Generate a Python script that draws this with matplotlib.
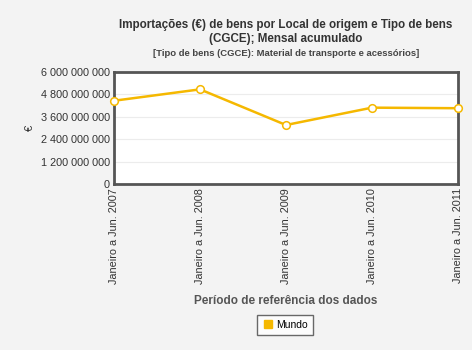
import matplotlib
matplotlib.use("Agg")
import matplotlib.pyplot as plt

# dados
periodos = ["Janeiro a Jun. 2007", "Janeiro a Jun. 2008", "Janeiro a Jun. 2009",
            "Janeiro a Jun. 2010", "Janeiro a Jun. 2011"]
mundo = [4.46e9, 5.07e9, 3.16e9, 4.09e9, 4.06e9]
y_ticks = [0, 1.2e9, 2.4e9, 3.6e9, 4.8e9, 6.0e9]
y_labels = ["0", "1 200 000 000", "2 400 000 000", "3 600 000 000",
            "4 800 000 000", "6 000 000 000"]

plt.rcParams['font.family'] = ['Liberation Sans', 'DejaVu Sans']

fig = plt.figure(figsize=(4.72, 3.5), dpi=100, facecolor="#f3f3f3")
ax = fig.add_axes([114 / 472, 1 - 184 / 350, 344 / 472, 112 / 350])
ax.set_facecolor("white")

x = list(range(len(periodos)))
ax.plot(x, mundo, color="#f5b800", lw=1.8, marker="o", markersize=5.5,
        markerfacecolor="white", markeredgecolor="#f5b800", markeredgewidth=1.1,
        zorder=3, clip_on=False, label="Mundo")

ax.set_xlim(0, 4)
ax.set_ylim(0, 6e9)
ax.set_yticks(y_ticks)
ax.set_yticklabels(y_labels, fontsize=7.8, color="#333333")
ax.set_xticks(x)
ax.set_xticklabels(periodos, rotation=90, fontsize=7.8, color="#333333")
ax.tick_params(length=0, pad=3)
ax.grid(axis="y", color="#ececec", lw=0.8)
ax.set_axisbelow(True)
for s in ax.spines.values():
    s.set_color("#555555")
    s.set_linewidth(2)

ax.set_ylabel("€", fontsize=8, color="#333333", labelpad=4)
ax.set_xlabel("Período de referência dos dados", fontsize=8.5, fontweight="bold",
              color="#555555", labelpad=8)

fig.text(286 / 472, 1 - 32 / 350,
         "Importações (€) de bens por Local de origem e Tipo de bens\n(CGCE); Mensal acumulado",
         ha="center", va="center", fontsize=8.4, fontweight="bold", color="#333333",
         linespacing=1.15)
fig.text(286 / 472, 1 - 53 / 350,
         "[Tipo de bens (CGCE): Material de transporte e acessórios]",
         ha="center", va="center", fontsize=6.8, fontweight="bold", color="#444444")

handle = plt.Line2D([], [], color="#f5b800", marker="s", linestyle="none", markersize=6)
leg = fig.legend([handle], ["Mundo"], loc="center", bbox_to_anchor=(285 / 472, 1 - 325 / 350),
                 fontsize=7.5, frameon=True, fancybox=False, handletextpad=0.3,
                 borderpad=0.5, handlelength=1)
leg.get_frame().set_edgecolor("#444444")
leg.get_frame().set_linewidth(1)

fig.savefig("out.png", dpi=100, facecolor=fig.get_facecolor())
